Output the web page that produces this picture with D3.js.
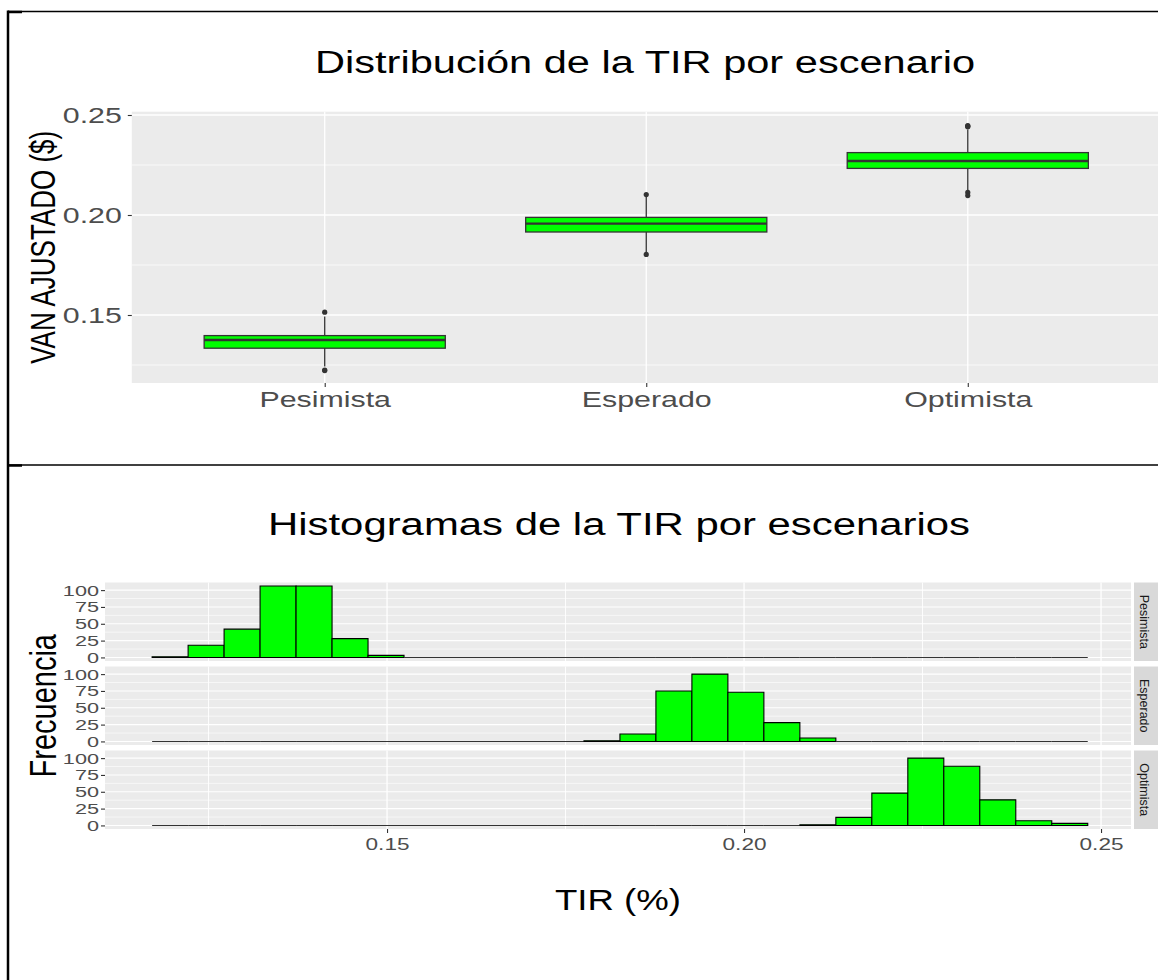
<!DOCTYPE html>
<html>
<head>
<meta charset="utf-8">
<script src="https://cdnjs.cloudflare.com/ajax/libs/d3/7.8.5/d3.min.js"></script>
<style>
  body { margin: 0; background: #fff; }
  svg { display: block; font-family: "Liberation Sans", Arial, sans-serif; }
</style>
</head>
<body>
<svg id="chart" width="1158" height="980"></svg>
<script>
// ---- datos ----
var escenarios = ["Pesimista", "Esperado", "Optimista"]
var q1 = [0.1334, 0.1915, 0.2233]
var mediana = [0.1375, 0.1957, 0.2270]
var q3 = [0.1397, 0.1988, 0.2312]
var bigoteBajo = [0.1242, 0.1808, 0.2125]
var bigoteAlto = [0.1492, 0.2092, 0.2428]
var atipicos = [
  [0.1514, 0.1225, 0.1222],
  [0.2102, 0.1803],
  [0.2447, 0.2444, 0.2441, 0.2113, 0.2097]
]
var ticksVan = [0.15, 0.20, 0.25]

var binInicio = 0.1171
var binAncho = 0.00504
var frecPesimista = [1, 18, 42, 106, 106, 28, 3, 0, 0, 0, 0, 0, 0, 0, 0, 0, 0, 0, 0, 0, 0, 0, 0, 0, 0, 0]
var frecEsperado  = [0, 0, 0, 0, 0, 0, 0, 0, 0, 0, 0, 0, 1, 11, 75, 100, 73, 28, 5, 0, 0, 0, 0, 0, 0, 0]
var frecOptimista = [0, 0, 0, 0, 0, 0, 0, 0, 0, 0, 0, 0, 0, 0, 0, 0, 0, 0, 1, 12, 48, 100, 88, 38, 7, 3]
var ticksTir = [0.15, 0.20, 0.25]
var ticksFrec = [0, 25, 50, 75, 100]

var svg = d3.select('#chart')
var verde = '#00ff00'
var gris20 = '#333333'
var gris30 = '#4d4d4d'
var fondo = '#ebebeb'

// marco de la tabla
svg.append('line').attr('x1', 8).attr('x2', 1158).attr('y1', 11.5).attr('y2', 11.5)
  .style('stroke', '#000').style('stroke-width', 1.5)
svg.append('line').attr('x1', 8).attr('x2', 1158).attr('y1', 465).attr('y2', 465)
  .style('stroke', '#000').style('stroke-width', 1.5)
svg.append('line').attr('x1', 8).attr('x2', 22).attr('y1', 465.5).attr('y2', 465.5)
  .style('stroke', '#000').style('stroke-width', 2.5)
svg.append('line').attr('x1', 8).attr('x2', 22).attr('y1', 12).attr('y2', 12)
  .style('stroke', '#000').style('stroke-width', 2.5)
svg.append('line').attr('x1', 8).attr('x2', 8).attr('y1', 10.5).attr('y2', 980)
  .style('stroke', '#000').style('stroke-width', 2.5)

function minores(t){
  var m = []
  for(var i = 0; i < t.length; i++){
    m.push(t[i] - (t[1] - t[0]) / 2)
  }
  m.push(t[t.length-1] + (t[1] - t[0]) / 2)
  return m
}

function estirarEje(g, sx, pad, lado){
  g.select('.domain').remove()
  g.selectAll('.tick line').style('stroke', gris20).style('stroke-width', 1.1)
  g.selectAll('.tick text').style('fill', gris30)
  if(lado == 'left'){
    g.selectAll('.tick text').attr('x', -pad / sx).attr('transform', 'scale(' + sx + ',1)')
  }else{
    g.selectAll('.tick text').attr('transform', 'scale(' + sx + ',1)')
  }
}

// ================= BOXPLOT =================
var p1 = {x0: 131.8, x1: 1160.7, y0: 111.7, y1: 383}

var yVan = d3.scaleLinear().domain([0.116, 0.25165]).range([p1.y1, p1.y0])
var xEsc = d3.scalePoint().domain(escenarios).range([p1.x0, p1.x1]).padding(0.6)
var anchoCaja = xEsc.step() * 0.75

svg.append('text')
  .attr('x', 645).attr('y', 72.7)
  .attr('text-anchor', 'middle')
  .attr('textLength', 660).attr('lengthAdjust', 'spacingAndGlyphs')
  .style('font-size', '31px').style('fill', '#000')
  .text('Distribución de la TIR por escenario')

svg.append('rect')
  .attr('x', p1.x0).attr('y', p1.y0)
  .attr('width', p1.x1 - p1.x0).attr('height', p1.y1 - p1.y0)
  .style('fill', fondo)

svg.selectAll('.menorVan')
  .data(minores(ticksVan).filter(function(d){ return yVan(d) > p1.y0 && yVan(d) < p1.y1 }))
  .enter().append('line')
  .attr('class', 'menorVan')
  .attr('x1', p1.x0).attr('x2', p1.x1)
  .attr('y1', function(d){ return yVan(d) }).attr('y2', function(d){ return yVan(d) })
  .style('stroke', '#fff').style('stroke-width', 0.7)

svg.selectAll('.mayorVan')
  .data(ticksVan)
  .enter().append('line')
  .attr('class', 'mayorVan')
  .attr('x1', p1.x0).attr('x2', p1.x1)
  .attr('y1', function(d){ return yVan(d) }).attr('y2', function(d){ return yVan(d) })
  .style('stroke', '#fff').style('stroke-width', 1.3)

svg.selectAll('.mayorEsc')
  .data(escenarios)
  .enter().append('line')
  .attr('class', 'mayorEsc')
  .attr('x1', function(d){ return xEsc(d) }).attr('x2', function(d){ return xEsc(d) })
  .attr('y1', p1.y0).attr('y2', p1.y1)
  .style('stroke', '#fff').style('stroke-width', 1.3)

var cajas = svg.selectAll('.caja')
  .data(escenarios)
  .enter().append('g')
  .attr('class', 'caja')

cajas.append('line')
  .attr('x1', function(d){ return xEsc(d) }).attr('x2', function(d){ return xEsc(d) })
  .attr('y1', function(d, i){ return yVan(bigoteBajo[i]) })
  .attr('y2', function(d, i){ return yVan(bigoteAlto[i]) })
  .style('stroke', gris20).style('stroke-width', 1.3)

cajas.append('rect')
  .attr('x', function(d){ return xEsc(d) - anchoCaja / 2 })
  .attr('width', anchoCaja)
  .attr('y', function(d, i){ return yVan(q3[i]) })
  .attr('height', function(d, i){ return yVan(q1[i]) - yVan(q3[i]) })
  .style('fill', verde).style('stroke', gris20).style('stroke-width', 1.3)

cajas.append('line')
  .attr('x1', function(d){ return xEsc(d) - anchoCaja / 2 })
  .attr('x2', function(d){ return xEsc(d) + anchoCaja / 2 })
  .attr('y1', function(d, i){ return yVan(mediana[i]) })
  .attr('y2', function(d, i){ return yVan(mediana[i]) })
  .style('stroke', gris20).style('stroke-width', 2.4)

cajas.each(function(d, i){
  d3.select(this).selectAll('circle')
    .data(atipicos[i])
    .enter().append('circle')
    .attr('cx', xEsc(d))
    .attr('cy', function(v){ return yVan(v) })
    .attr('r', 2.6)
    .style('fill', gris20)
})

var ejeYVan = svg.append('g')
  .attr('transform', 'translate(' + p1.x0 + ',0)')
  .style('font-size', '22px')
  .call(d3.axisLeft(yVan).tickValues(ticksVan).tickFormat(d3.format('.2f')).tickSize(4))
estirarEje(ejeYVan, 1.38, 10, 'left')

var ejeXEsc = svg.append('g')
  .attr('transform', 'translate(0,' + p1.y1 + ')')
  .style('font-size', '22px')
  .call(d3.axisBottom(xEsc).tickSize(4).tickPadding(4.1))
estirarEje(ejeXEsc, 1.38, 4.1, 'bottom')

svg.append('text')
  .attr('transform', 'translate(55,' + ((p1.y0 + p1.y1) / 2) + ') scale(1.37,1) rotate(-90)')
  .attr('text-anchor', 'middle')
  .style('font-size', '26px').style('fill', '#000')
  .text('VAN AJUSTADO ($)')

// ================= HISTOGRAMAS =================
var p2 = {x0: 105, x1: 1131, top: 582.5, alto: 78.5, sep: 5.5}
var paneles = [
  {nombre: 'Pesimista', frec: frecPesimista},
  {nombre: 'Esperado', frec: frecEsperado},
  {nombre: 'Optimista', frec: frecOptimista}
]

var xTir = d3.scaleLinear().domain([0.1105, 0.1105 + (p2.x1 - p2.x0) / 7140]).range([p2.x0, p2.x1])
var yFrec = d3.scaleLinear().domain([-5.3, 111.3]).range([p2.alto, 0])

svg.append('text')
  .attr('x', 619).attr('y', 535)
  .attr('text-anchor', 'middle')
  .attr('textLength', 702).attr('lengthAdjust', 'spacingAndGlyphs')
  .style('font-size', '31px').style('fill', '#000')
  .text('Histogramas de la TIR por escenarios')

paneles.forEach(function(p, k){
  var y0 = p2.top + k * (p2.alto + p2.sep)
  var g = svg.append('g').attr('transform', 'translate(0,' + y0 + ')')

  g.append('rect')
    .attr('x', p2.x0).attr('y', 0)
    .attr('width', p2.x1 - p2.x0).attr('height', p2.alto)
    .style('fill', fondo)

  g.selectAll('.menorFrec')
    .data(minores(ticksFrec).filter(function(d){ return d > -5 && d < 111 }))
    .enter().append('line')
    .attr('x1', p2.x0).attr('x2', p2.x1)
    .attr('y1', function(d){ return yFrec(d) }).attr('y2', function(d){ return yFrec(d) })
    .style('stroke', '#fff').style('stroke-width', 0.6)

  g.selectAll('.menorTir')
    .data(minores(ticksTir).filter(function(d){ return xTir(d) > p2.x0 && xTir(d) < p2.x1 }))
    .enter().append('line')
    .attr('x1', function(d){ return xTir(d) }).attr('x2', function(d){ return xTir(d) })
    .attr('y1', 0).attr('y2', p2.alto)
    .style('stroke', '#fff').style('stroke-width', 0.9)

  g.selectAll('.mayorFrec')
    .data(ticksFrec)
    .enter().append('line')
    .attr('x1', p2.x0).attr('x2', p2.x1)
    .attr('y1', function(d){ return yFrec(d) }).attr('y2', function(d){ return yFrec(d) })
    .style('stroke', '#fff').style('stroke-width', 1.1)

  g.selectAll('.mayorTir')
    .data(ticksTir)
    .enter().append('line')
    .attr('x1', function(d){ return xTir(d) }).attr('x2', function(d){ return xTir(d) })
    .attr('y1', 0).attr('y2', p2.alto)
    .style('stroke', '#fff').style('stroke-width', 1.3)

  g.selectAll('.barra')
    .data(p.frec)
    .enter().append('path')
    .attr('class', 'barra')
    .attr('d', function(d, i){
      var a = xTir(binInicio + i * binAncho)
      var b = xTir(binInicio + (i + 1) * binAncho)
      return 'M' + a + ',' + yFrec(0) + 'H' + b + 'V' + yFrec(d) + 'H' + a + 'Z'
    })
    .style('fill', verde).style('stroke', function(d){ return d == 0 ? gris20 : '#000' })
    .style('stroke-width', 1.1)

  var ejeF = g.append('g')
    .attr('transform', 'translate(' + p2.x0 + ',0)')
    .style('font-size', '15.5px')
    .call(d3.axisLeft(yFrec).tickValues(ticksFrec).tickSize(4))
  estirarEje(ejeF, 1.4, 6, 'left')

  g.append('rect')
    .attr('x', 1134).attr('y', 0)
    .attr('width', 40).attr('height', p2.alto)
    .style('fill', '#d9d9d9')

  g.append('text')
    .attr('transform', 'translate(1144,' + (p2.alto / 2) + ') rotate(90)')
    .attr('text-anchor', 'middle')
    .attr('dominant-baseline', 'central')
    .style('font-size', '12.5px').style('fill', '#1a1a1a')
    .text(p.nombre)
})

var fondoHist = p2.top + 3 * p2.alto + 2 * p2.sep
var ejeTir = svg.append('g')
  .attr('transform', 'translate(0,' + fondoHist + ')')
  .style('font-size', '16.5px')
  .call(d3.axisBottom(xTir).tickValues(ticksTir).tickFormat(d3.format('.2f')).tickSize(4).tickPadding(5.3))
estirarEje(ejeTir, 1.37, 5.3, 'bottom')

svg.append('text')
  .attr('x', (p2.x0 + p2.x1) / 2).attr('y', 910)
  .attr('text-anchor', 'middle')
  .attr('textLength', 126).attr('lengthAdjust', 'spacingAndGlyphs')
  .style('font-size', '30px').style('fill', '#000')
  .text('TIR (%)')

svg.append('text')
  .attr('transform', 'translate(56,' + (p2.top + fondoHist) / 2 + ') scale(1.3,1) rotate(-90)')
  .attr('text-anchor', 'middle')
  .style('font-size', '29px').style('fill', '#000')
  .text('Frecuencia')
</script>
</body>
</html>
